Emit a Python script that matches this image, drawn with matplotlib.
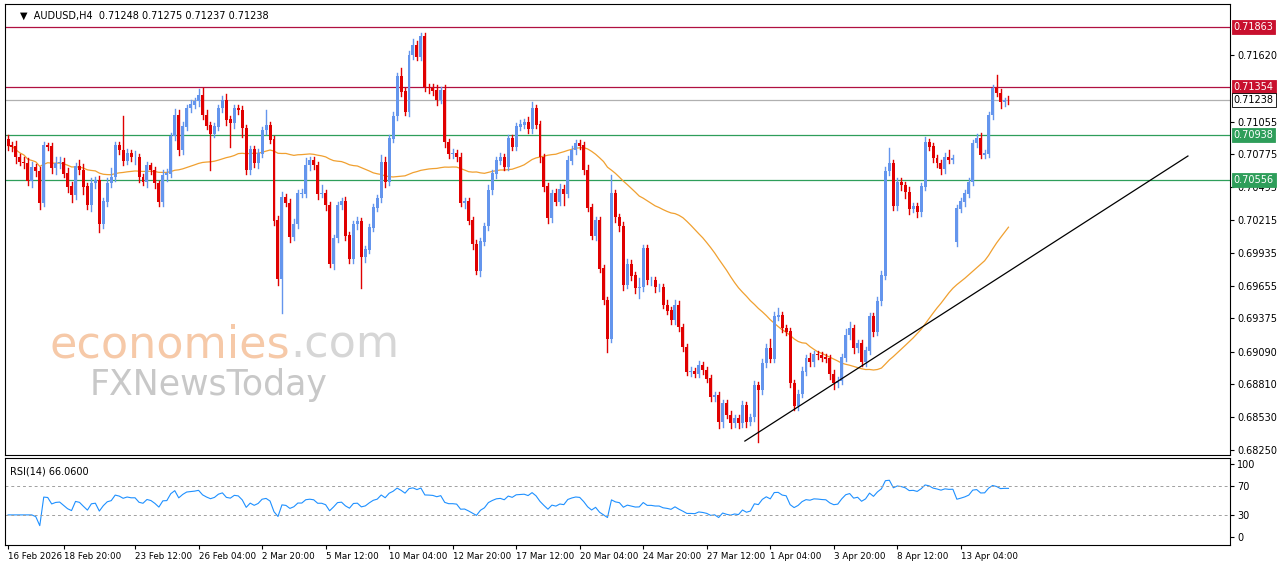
import numpy as np
import pandas as pd
import matplotlib
matplotlib.use("Agg")
import matplotlib.pyplot as plt
import matplotlib.transforms as mtransforms

# AUDUSD H4 closes
closes = [
    .7085, .7084, .7075, .7071, .7070, .7055, .7066, .7063, .7036, .7085,
    .7084, .7066, .7070, .7071, .7061, .7050, .7043, .7067, .7064, .7050,
    .7034, .7053, .7055, .7018, .7037, .7053, .7058, .7085, .7081, .7072,
    .7078, .7075, .7075, .7058, .7054, .7068, .7064, .7053, .7037, .7060,
    .7061, .7093, .7111, .7081, .7101, .7117, .7120, .7123, .7128, .7111,
    .7102, .7095, .7101, .7117, .7124, .7107, .7104, .7117, .7115, .7100,
    .7064, .7082, .7070, .7078, .7098, .7102, .7090, .7021, .6971, .7041,
    .7036, .7007, .7018, .7044, .7044, .7068, .7072, .7068, .7044, .7044,
    .7034, .6984, .7006, .7034, .7037, .7008, .6988, .7018, .7020, .6990,
    .6996, .7015, .7032, .7040, .7071, .7054, .7091, .7110, .7144, .7131,
    .7114, .7162, .7171, .7161, .7178, .7135, .7134, .7132, .7124, .7132,
    .7088, .7078, .7078, .7075, .7036, .7037, .7021, .7001, .6978, .7003,
    .7016, .7047, .7061, .7072, .7075, .7067, .7091, .7084, .7101, .7103,
    .7105, .7099, .7117, .7103, .7075, .7050, .7023, .7044, .7037, .7048,
    .7044, .7072, .7081, .7087, .7085, .7064, .7032, .7008, .7021, .6980,
    .6953, .6920, .7044, .7024, .7016, .6966, .6984, .6974, .6963, .6964,
    .6997, .6970, .6970, .6964, .6964, .6949, .6944, .6936, .6949, .6930,
    .6913, .6892, .6892, .6890, .6897, .6893, .6886, .6870, .6872, .6849,
    .6865, .6855, .6848, .6852, .6848, .6863, .6849, .6853, .6880, .6876,
    .6899, .6912, .6903, .6939, .6940, .6929, .6926, .6882, .6863, .6873,
    .6892, .6903, .6900, .6907, .6906, .6904, .6903, .6890, .6882, .6884,
    .6904, .6923, .6929, .6912, .6916, .6900, .6910, .6939, .6926, .6952,
    .6974, .7063, .7070, .7033, .7054, .7051, .7045, .7031, .7033, .7028,
    .7050, .7088, .7084, .7074, .7070, .7065, .7075, .7073, .7074, .7031,
    .7037, .7044, .7054, .7087, .7091, .7077, .7078, .7111, .7134, .7130,
    .7122, .7124, .71238,
]
first_open = 0.7090
gap_opens = {239: 0.7003}   # weekend gap before 13 Apr

# wick lengths in pips
upper_wick = [
    4, 3, 5, 3, 4, 4, 5, 3, 4, 3, 2, 3, 5, 4, 3, 5, 4, 3, 6, 5,
    3, 4, 3, 4, 3, 4, 8, 3, 3, 29, 4, 3, 5, 3, 3, 3, 2, 3, 2, 4,
    4, 3, 5, 4, 4, 3, 4, 3, 5, 6, 4, 3, 3, 3, 3, 5, 3, 3, 3, 4,
    3, 3, 3, 4, 3, 13, 3, 3, 4, 4, 3, 3, 4, 3, 4, 6, 3, 3, 3, 7,
    3, 3, 3, 3, 3, 4, 3, 3, 4, 3, 3, 3, 3, 3, 6, 4, 3, 4, 3, 7,
    3, 4, 5, 3, 3, 3, 3, 4, 5, 3, 5, 3, 4, 3, 4, 3, 3, 3, 3, 3,
    3, 4, 3, 3, 4, 3, 3, 3, 3, 4, 3, 4, 5, 3, 3, 3, 3, 3, 4, 4,
    3, 4, 4, 3, 3, 3, 4, 3, 3, 3, 3, 3, 16, 3, 3, 4, 4, 3, 3, 8,
    3, 3, 3, 3, 3, 3, 4, 3, 4, 3, 3, 3, 4, 3, 4, 3, 3, 3, 3, 3,
    3, 3, 3, 3, 3, 4, 3, 3, 4, 3, 4, 4, 8, 4, 6, 3, 3, 3, 3, 3,
    4, 3, 5, 3, 3, 3, 3, 3, 3, 3, 3, 5, 5, 3, 3, 3, 3, 3, 3, 4,
    4, 4, 13, 3, 3, 3, 3, 5, 3, 3, 3, 4, 3, 3, 3, 3, 4, 6, 3, 3,
    3, 3, 3, 3, 4, 5, 3, 3, 3, 11, 3, 2, 3,
]
lower_wick = [
    4, 4, 5, 3, 4, 4, 5, 4, 5, 3, 3, 4, 5, 4, 3, 5, 6, 4, 3, 6,
    3, 5, 4, 7, 3, 4, 3, 3, 3, 4, 3, 3, 6, 4, 3, 4, 3, 4, 4, 4,
    5, 3, 3, 4, 3, 3, 3, 3, 4, 3, 3, 31, 3, 3, 3, 4, 20, 4, 3, 8,
    3, 3, 3, 4, 3, 3, 3, 4, 5, 29, 3, 4, 3, 3, 3, 3, 4, 3, 5, 3,
    4, 3, 4, 3, 3, 4, 3, 3, 4, 27, 4, 3, 3, 3, 3, 4, 3, 3, 3, 4,
    3, 4, 3, 3, 3, 3, 4, 4, 4, 3, 4, 4, 4, 3, 3, 4, 3, 4, 3, 4,
    3, 3, 3, 4, 3, 3, 3, 3, 3, 3, 3, 3, 3, 3, 4, 4, 4, 3, 3, 3,
    10, 3, 3, 3, 3, 3, 3, 3, 4, 3, 3, 11, 3, 4, 4, 4, 3, 4, 4, 8,
    3, 3, 4, 4, 3, 3, 3, 3, 3, 3, 3, 3, 4, 3, 3, 3, 3, 3, 3, 5,
    4, 3, 4, 3, 4, 3, 4, 3, 3, 44, 3, 3, 3, 3, 3, 3, 3, 3, 4, 4,
    3, 3, 3, 3, 3, 3, 3, 4, 5, 3, 3, 3, 3, 4, 3, 3, 3, 3, 4, 3,
    3, 3, 3, 3, 3, 4, 5, 4, 3, 4, 3, 3, 3, 3, 3, 4, 3, 3, 3, 4,
    3, 4, 3, 3, 3, 3, 3, 3, 3, 3, 5, 3, 3,
]

levels_red = [0.71863, 0.71354]
levels_green = [0.70938, 0.70556]
last_price = 0.71238
trend_start = (185.6, 0.68327)
trend_end = (297.2, 0.70761)

price_ticks = [0.71620, 0.71055, 0.70775, 0.70495, 0.70215, 0.69935,
               0.69655, 0.69375, 0.69090, 0.68810, 0.68530, 0.68250]
date_idx = [0, 14, 32, 48, 64, 80, 96, 112, 128, 144, 160, 176, 192, 208, 224, 240]
date_labels = ['16 Feb 2026', '18 Feb 20:00', '23 Feb 12:00', '26 Feb 04:00',
               '2 Mar 20:00', '5 Mar 12:00', '10 Mar 04:00', '12 Mar 20:00',
               '17 Mar 12:00', '20 Mar 04:00', '24 Mar 20:00', '27 Mar 12:00',
               '1 Apr 04:00', '3 Apr 20:00', '8 Apr 12:00', '13 Apr 04:00']

UP = '#6495ED'
DOWN = '#E00000'

c = np.array(closes)
o = np.concatenate([[first_open], c[:-1]])
for k, v in gap_opens.items():
    o[k] = v
h = np.maximum(o, c) + np.array(upper_wick) * 0.0001
l = np.minimum(o, c) - np.array(lower_wick) * 0.0001
x = np.arange(len(c))

ma = pd.Series(c).rolling(50, min_periods=1).mean()
delta = pd.Series(c).diff()
gain = delta.clip(lower=0).ewm(alpha=1 / 14, adjust=True, min_periods=6).mean()
loss = (-delta.clip(upper=0)).ewm(alpha=1 / 14, adjust=True, min_periods=6).mean()
rsi = (100 - 100 / (1 + gain / loss)).bfill()

W, H = 1280, 567
fig = plt.figure(figsize=(W / 100, H / 100), dpi=100)
ax = fig.add_axes([5 / W, 1 - 455 / H, 1225 / W, 451 / H])
ax2 = fig.add_axes([5 / W, 1 - 545 / H, 1225 / W, 87 / H])

# candles
for i in x:
    col = UP if c[i] >= o[i] else DOWN
    ax.plot([i, i], [l[i], h[i]], color=col, lw=1, zorder=3)
    ax.bar(i, abs(c[i] - o[i]) + 0.00003, bottom=min(o[i], c[i]), width=0.75,
           color=col, lw=0, zorder=4)

ax.plot(x, ma, color='#F0A030', lw=0.9, zorder=2)
ax.plot([trend_start[0], trend_end[0]], [trend_start[1], trend_end[1]],
        color='black', lw=0.9, zorder=5)

for p in levels_red:
    ax.axhline(p, color='#B01040', lw=0.9, zorder=1)
for p in levels_green:
    ax.axhline(p, color='#2E9E5A', lw=0.9, zorder=1)
ax.axhline(last_price, color='#B0B0B0', lw=0.9, zorder=1)

ax.set_xlim(-0.76, 307.8)
ax.set_ylim(0.68208, 0.72059)
ax.yaxis.tick_right()
ax.set_yticks(price_ticks)
ax.set_yticklabels([f'{p:.5f}' for p in price_ticks], fontsize=7)
ax.tick_params(axis='y', length=3, pad=2)
ax.set_xticks([])

trans = mtransforms.blended_transform_factory(ax.transAxes, ax.transData)
for p, fc, tc in [(0.71863, '#C8102E', 'white'), (0.71354, '#C8102E', 'white'),
                  (last_price, 'white', 'black'), (0.70938, '#2E9E5A', 'white'),
                  (0.70556, '#2E9E5A', 'white')]:
    ax.text(1.003, p, f'{p:.5f}', transform=trans, fontsize=7, color=tc,
            va='center', ha='left', zorder=10,
            bbox=dict(boxstyle='square,pad=0.2', fc=fc, ec='black' if fc == 'white' else fc, lw=0.6))

ax.text(0.012, 0.985, '▼  AUDUSD,H4  0.71248 0.71275 0.71237 0.71238',
        transform=ax.transAxes, fontsize=7, va='top', ha='left')

# watermark
wm = fig.text(50 / W, 1 - 345 / H, 'economies', fontsize=32, color='#F6C9A8',
              va='center', ha='left', zorder=0)
fig.canvas.draw()
bb = wm.get_window_extent()
fig.text(bb.x1 / W, 1 - 345 / H, '.com', fontsize=32, color='#D6D6D6',
         va='center', ha='left', zorder=0)
fig.text(90 / W, 1 - 385 / H, 'FXNewsToday', fontsize=25, color='#C8C8C8',
         va='center', ha='left', zorder=0)

# RSI
ax2.plot(x, rsi, color='#1E90FF', lw=0.8)
for lv in (70, 30):
    ax2.axhline(lv, color='#A0A0A0', lw=0.7, ls=(0, (3, 3)))
ax2.set_xlim(ax.get_xlim())
ax2.set_ylim(-11, 108.2)
ax2.yaxis.tick_right()
ax2.set_yticks([100, 70, 30, 0])
ax2.set_yticklabels(['100', '70', '30', '0'], fontsize=7)
ax2.tick_params(axis='y', length=3, pad=2)
ax2.set_xticks(date_idx)
ax2.set_xticklabels(date_labels, fontsize=6.3, ha='left')
ax2.tick_params(axis='x', length=3, pad=2)
ax2.text(0.004, 0.9, 'RSI(14) 66.0600', transform=ax2.transAxes,
         fontsize=7, va='top', ha='left')

for a in (ax, ax2):
    for s in a.spines.values():
        s.set_linewidth(0.8)

fig.savefig('out.png', dpi=100)
